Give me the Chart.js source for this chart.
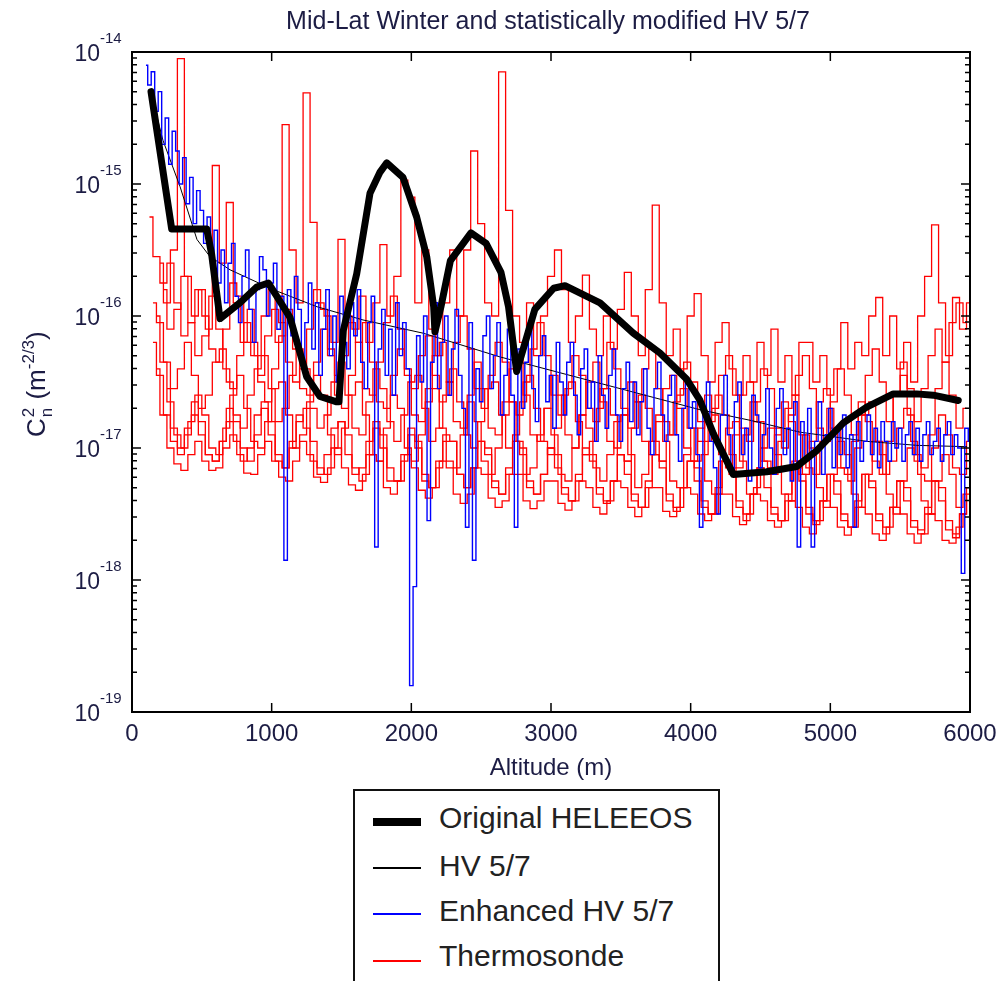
<!DOCTYPE html>
<html>
<head>
<meta charset="utf-8">
<title>Mid-Lat Winter and statistically modified HV 5/7</title>
<script src="https://cdn.jsdelivr.net/npm/chart.js@4.4.1/dist/chart.umd.min.js"></script>
<style>
  html, body { margin: 0; padding: 0; background: #fff; overflow: hidden; }
  #wrap { position: relative; width: 1000px; height: 981px; }
  #chart { position: absolute; left: 0; top: 0; }
  #legend {
    position: absolute; left: 353px; top: 789px; width: 363px; height: 200px;
    border: 2px solid #111; background: #fff;
    font-family: "Liberation Sans", Arial, sans-serif; font-size: 30px; color: #222;
  }
  .swatch { position: absolute; left: 18px; width: 48px; }
  .label { position: absolute; left: 84px; line-height: 30px; white-space: nowrap; }
</style>
</head>
<body>
<div id="wrap">
  <canvas id="chart" width="1000" height="981"></canvas>
  <div id="legend">
    <div class="swatch" style="top:27px;height:8px;background:#000"></div>
    <div class="label" style="top:12px">Original HELEEOS</div>
    <div class="swatch" style="top:76px;height:2px;background:#000"></div>
    <div class="label" style="top:60px">HV 5/7</div>
    <div class="swatch" style="top:122px;height:2px;background:#0000ff"></div>
    <div class="label" style="top:105px">Enhanced HV 5/7</div>
    <div class="swatch" style="top:169px;height:2px;background:#ff0000"></div>
    <div class="label" style="top:150px">Thermosonde</div>
  </div>
</div>
<script>
// Altitude grids (m) for the noisy profiles
const altitudeGrid = [100,150,200,250,300,350,400,450,500,550,
  600,650,700,750,800,850,900,950,1000,1050,
  1100,1150,1200,1250,1300,1350,1400,1450,1500,1550,
  1600,1650,1700,1750,1800,1850,1900,1950,2000,2050,
  2100,2150,2200,2250,2300,2350,2400,2450,2500,2550,
  2600,2650,2700,2750,2800,2850,2900,2950,3000,3050,
  3100,3150,3200,3250,3300,3350,3400,3450,3500,3550,
  3600,3650,3700,3750,3800,3850,3900,3950,4000,4050,
  4100,4150,4200,4250,4300,4350,4400,4450,4500,4550,
  4600,4650,4700,4750,4800,4850,4900,4950,5000,5050,
  5100,5150,5200,5250,5300,5350,5400,5450,5500,5550,
  5600,5650,5700,5750,5800,5850,5900,5950,6000];
const altitudeGridB = [75,125,175,225,275,325,375,425,475,525,
  575,625,675,725,775,825,875,925,975,1025,
  1075,1125,1175,1225,1275,1325,1375,1425,1475,1525,
  1575,1625,1675,1725,1775,1825,1875,1925,1975,2025,
  2075,2125,2175,2225,2275,2325,2375,2425,2475,2525,
  2575,2625,2675,2725,2775,2825,2875,2925,2975,3025,
  3075,3125,3175,3225,3275,3325,3375,3425,3475,3525,
  3575,3625,3675,3725,3775,3825,3875,3925,3975,4025,
  4075,4125,4175,4225,4275,4325,4375,4425,4475,4525,
  4575,4625,4675,4725,4775,4825,4875,4925,4975,5025,
  5075,5125,5175,5225,5275,5325,5375,5425,5475,5525,
  5575,5625,5675,5725,5775,5825,5875,5925,5975];
const fineGrid = [100,125,150,175,200,225,250,275,300,325,350,375,400,425,450,475,500,525,550,575,
  600,625,650,675,700,725,750,775,800,825,850,875,900,925,950,975,1000,1025,1050,1075,
  1100,1125,1150,1175,1200,1225,1250,1275,1300,1325,1350,1375,1400,1425,1450,1475,1500,1525,1550,1575,
  1600,1625,1650,1675,1700,1725,1750,1775,1800,1825,1850,1875,1900,1925,1950,1975,2000,2025,2050,2075,
  2100,2125,2150,2175,2200,2225,2250,2275,2300,2325,2350,2375,2400,2425,2450,2475,2500,2525,2550,2575,
  2600,2625,2650,2675,2700,2725,2750,2775,2800,2825,2850,2875,2900,2925,2950,2975,3000,3025,3050,3075,
  3100,3125,3150,3175,3200,3225,3250,3275,3300,3325,3350,3375,3400,3425,3450,3475,3500,3525,3550,3575,
  3600,3625,3650,3675,3700,3725,3750,3775,3800,3825,3850,3875,3900,3925,3950,3975,4000,4025,4050,4075,
  4100,4125,4150,4175,4200,4225,4250,4275,4300,4325,4350,4375,4400,4425,4450,4475,4500,4525,4550,4575,
  4600,4625,4650,4675,4700,4725,4750,4775,4800,4825,4850,4875,4900,4925,4950,4975,5000,5025,5050,5075,
  5100,5125,5150,5175,5200,5225,5250,5275,5300,5325,5350,5375,5400,5425,5450,5475,5500,5525,5550,5575,
  5600,5625,5650,5675,5700,5725,5750,5775,5800,5825,5850,5875,5900,5925,5950,5975,6000];

const xTickValues = [0,1000,2000,3000,4000,5000,6000];
const yTickExponents = [-19,-18,-17,-16,-15,-14];

// Values are log10 of Cn2 (m^-2/3)

// Original HELEEOS (thick black)
const heleeosAlt = [136,284,535,570,630,773,893,976,1036,1131,
  1251,1346,1466,1482,1513,1609,1704,1776,1824,1940,
  2038,2110,2160,2169,2212,2280,2427,2535,2642,2696,
  2754,2884,3019,3100,3351,3589,3780,3972,4067,4162,
  4305,4544,4759,4902,5093,5260,5451,5618,5737,5916];
const heleeosLog = [-14.30,-15.34,-15.34,-15.53,-16.02,-15.90,-15.78,-15.75,-15.85,-16.01,
  -16.46,-16.61,-16.65,-16.65,-16.11,-15.68,-15.07,-14.91,-14.84,-14.95,
  -15.25,-15.55,-15.93,-16.12,-15.93,-15.58,-15.37,-15.45,-15.67,-15.93,
  -16.42,-15.95,-15.79,-15.77,-15.90,-16.13,-16.28,-16.48,-16.64,-16.89,
  -17.20,-17.18,-17.14,-17.02,-16.81,-16.69,-16.59,-16.59,-16.60,-16.64];

// HV 5/7 (thin black)
const hvAlt = [130,222,344,465,558,702,1010,1325,1654,2084,
  2635,2993,3351,3709,4067,4425,4783,5263,5621,5979];
const hvLog = [-14.29,-14.67,-15.02,-15.42,-15.55,-15.65,-15.80,-15.93,-16.03,-16.13,
  -16.31,-16.41,-16.51,-16.61,-16.71,-16.79,-16.88,-16.95,-16.98,-16.99];

// Enhanced HV 5/7 (blue), on fineGrid
const enhancedLog = [
  -14.10,-14.25,-14.15,-14.45,-14.30,-14.70,-14.50,-14.85,-14.60,-14.75,-15.00,-14.80,-15.15,-14.95,-15.30,-15.05,-15.20,-15.45,-15.25,-15.60,
  -15.35,-15.75,-15.50,-15.90,-15.60,-15.45,-15.85,-16.05,-15.70,-15.50,-15.95,-16.20,-15.80,-15.55,-15.65,-16.00,-15.75,-15.60,-16.10,-15.85,
  -17.85,-15.80,-16.15,-15.70,-15.95,-16.35,-16.05,-15.75,-16.25,-15.90,-16.45,-16.10,-15.80,-16.30,-16.00,-16.50,-15.85,-16.20,-16.40,-15.90,
  -16.15,-15.80,-16.35,-16.55,-16.05,-15.85,-17.75,-16.25,-15.95,-16.45,-16.10,-16.60,-15.90,-16.30,-16.05,-16.40,-18.80,-18.05,-16.15,-16.50,
  -16.00,-17.55,-16.35,-15.90,-16.55,-16.20,-16.00,-16.60,-16.25,-15.95,-16.45,-16.70,-17.60,-16.05,-17.85,-16.40,-16.65,-16.15,-16.00,-16.55,
  -16.30,-16.05,-16.75,-16.45,-16.10,-16.60,-17.60,-16.25,-16.70,-16.35,-16.05,-16.55,-16.80,-16.30,-16.15,-16.65,-16.45,-16.85,-16.20,-16.50,
  -16.75,-16.35,-16.20,-16.60,-16.90,-16.40,-16.25,-16.70,-16.50,-16.95,-16.30,-16.60,-16.85,-16.45,-16.25,-16.75,-16.95,-16.55,-16.35,-16.80,
  -16.50,-16.90,-16.65,-16.40,-16.85,-17.05,-16.55,-16.35,-16.75,-16.95,-16.60,-16.45,-16.90,-17.10,-16.70,-16.50,-16.85,-16.65,-17.05,-17.60,
  -16.70,-16.50,-16.95,-17.15,-17.50,-16.75,-16.45,-16.90,-17.20,-16.65,-16.50,-17.05,-16.85,-17.25,-16.60,-16.75,-17.15,-16.90,-16.55,-17.00,
  -17.20,-16.70,-16.55,-17.05,-16.85,-17.25,-16.65,-17.75,-16.80,-17.10,-16.70,-17.75,-16.95,-16.65,-17.20,-16.90,-16.70,-17.15,-16.85,-17.05,
  -16.75,-17.15,-16.90,-17.60,-16.80,-17.10,-16.95,-16.75,-17.05,-16.85,-17.15,-16.80,-16.95,-17.10,-16.80,-17.00,-16.85,-17.10,-16.90,-16.80,
  -17.05,-16.85,-17.10,-16.90,-16.80,-17.05,-16.95,-16.85,-17.10,-16.90,-16.80,-17.05,-16.90,-17.00,-17.95,-16.85,-16.95];

// Thermosonde profiles (red); odd ones on altitudeGrid, even ones on altitudeGridB
const thermo1Log = [null,null,-15.60,-15.90,-15.50,-14.05,-15.70,-16.00,-15.80,-16.10,
  -14.86,-15.60,-15.14,-15.90,-16.20,-15.95,-16.30,-16.00,-15.80,-16.20,
  -14.55,-15.50,-15.90,-14.31,-15.29,-15.90,-16.00,-16.20,-15.42,-16.00,
  -16.10,-15.85,-16.20,-15.90,-15.46,-16.00,-15.70,-14.97,-15.10,-15.90,
  -15.50,-16.10,-16.30,-15.90,-15.50,-16.00,-15.50,-14.75,-15.30,-15.90,
  -16.00,-14.15,-15.20,-16.00,-16.20,-15.90,-16.30,-16.00,-15.70,-15.50,
  -15.80,-16.20,-16.00,-15.69,-16.10,-16.30,-16.00,-16.25,-15.95,-15.67,
  -16.00,-16.30,-15.80,-15.16,-15.90,-16.30,-16.10,-16.40,-16.00,-15.83,
  -16.30,-16.50,-16.20,-16.05,-16.40,-16.60,-16.30,-16.50,-16.20,-16.45,
  -16.10,-16.50,-16.30,-16.60,-16.20,-16.20,-16.50,-16.30,-16.60,-16.40,
  -16.05,-16.40,-16.20,-16.30,-16.00,-15.86,-16.30,-16.00,-16.40,-16.20,
  -16.50,-16.00,-15.70,-15.31,-15.90,-16.30,-15.86,-16.10,-15.90];
const thermo2Log = [null,-15.25,-15.55,-15.75,-15.60,-15.90,-16.15,-16.05,-15.80,-16.00,
  -16.25,-16.35,-16.10,-15.75,-15.85,-16.20,-16.30,-16.45,-16.15,-15.95,
  -16.05,-16.35,-16.50,-16.40,-16.10,-15.80,-15.95,-16.25,-16.45,-16.30,
  -16.05,-16.20,-16.55,-16.60,-16.35,-16.05,-15.85,-16.10,-16.40,-16.55,
  -16.30,-16.15,-16.45,-16.65,-16.50,-16.20,-16.00,-16.25,-16.55,-16.70,
  -16.45,-16.20,-16.35,-16.65,-16.75,-16.50,-16.25,-16.05,-16.30,-16.60,
  -16.75,-16.55,-16.30,-16.45,-16.70,-16.80,-16.55,-16.20,-16.40,-16.70,
  -16.85,-16.65,-16.40,-16.25,-16.55,-16.80,-16.90,-16.60,-16.35,-16.50,
  -16.80,-16.95,-16.70,-16.45,-16.30,-16.60,-16.85,-16.95,-16.65,-16.40,
  -16.55,-16.85,-17.00,-16.75,-16.45,-16.30,-16.55,-16.85,-16.95,-16.65,
  -16.40,-16.60,-16.90,-16.75,-16.45,-16.25,-16.50,-16.80,-16.60,-16.35,
  -16.55,-16.80,-16.55,-16.30,-16.10,-16.35,-16.05,-15.90,-16.05];
const thermo3Log = [null,-15.90,-16.05,-16.35,-16.55,-16.40,-16.20,-16.45,-16.70,-16.60,
  -16.35,-16.25,-16.50,-16.80,-16.85,-16.60,-16.40,-16.30,-16.55,-16.80,
  -16.70,-16.45,-16.25,-16.40,-16.70,-16.85,-16.75,-16.50,-16.35,-16.60,
  -16.85,-16.90,-16.65,-16.40,-16.55,-16.80,-16.95,-16.75,-16.50,-16.45,
  -16.70,-16.95,-16.85,-16.60,-16.40,-16.65,-16.90,-17.00,-16.80,-16.55,
  -16.50,-16.75,-17.00,-16.90,-16.65,-16.45,-16.70,-16.95,-17.05,-16.85,
  -16.60,-16.50,-16.80,-17.05,-16.95,-16.70,-16.55,-16.75,-17.05,-17.10,
  -16.85,-16.60,-16.70,-16.95,-17.10,-16.90,-16.65,-16.55,-16.85,-17.10,
  -17.05,-16.80,-16.60,-16.75,-17.05,-17.15,-16.90,-16.65,-16.80,-17.10,
  -17.20,-16.95,-16.70,-16.60,-16.90,-17.15,-17.20,-16.95,-16.70,-16.85,
  -17.15,-17.25,-17.00,-16.75,-16.65,-16.95,-17.20,-17.10,-16.85,-16.70,
  -16.95,-17.20,-17.25,-17.00,-16.75,-16.90,-17.15,-17.20,-16.95];
const thermo4Log = [null,null,-16.00,-16.35,-16.65,-16.90,-17.00,-16.80,-16.60,-16.75,
  -17.00,-17.05,-16.85,-16.60,-16.45,-16.70,-16.95,-17.00,-16.80,-16.55,
  -16.50,-16.75,-17.00,-16.90,-16.65,-16.45,-16.60,-16.90,-17.05,-16.85,
  -16.60,-16.50,-16.75,-17.05,-17.10,-16.85,-16.60,-16.70,-17.00,-17.10,
  -16.90,-16.65,-16.55,-16.85,-17.10,-17.15,-16.90,-16.65,-16.80,-17.10,
  -17.20,-17.00,-16.75,-16.65,-16.95,-17.20,-17.15,-16.90,-16.70,-16.90,
  -17.20,-17.25,-17.00,-16.75,-16.85,-17.15,-17.25,-17.05,-16.80,-16.75,
  -17.05,-17.30,-17.20,-16.95,-16.75,-16.95,-17.25,-17.30,-17.05,-16.85,
  -16.95,-17.25,-17.35,-17.10,-16.85,-16.80,-17.10,-17.35,-17.30,-17.00,
  -16.85,-17.05,-17.35,-17.40,-17.15,-16.90,-17.00,-17.30,-17.45,-17.20,
  -16.95,-17.05,-17.35,-17.45,-17.20,-16.95,-17.05,-17.35,-17.50,-17.25,
  -17.00,-17.10,-17.40,-17.50,-17.25,-17.05,-17.20,-17.45,-17.35];
const thermo5Log = [null,-16.20,-16.45,-16.75,-16.95,-17.05,-16.90,-16.75,-16.90,-17.05,
  -17.10,-16.95,-16.80,-16.95,-17.10,-17.00,-16.75,-16.65,-16.90,-17.10,
  -17.15,-16.95,-16.75,-16.85,-17.10,-17.20,-17.05,-16.85,-16.80,-17.05,
  -17.20,-17.15,-16.95,-16.80,-17.00,-17.25,-17.25,-17.05,-16.85,-17.00,
  -17.25,-17.30,-17.10,-16.90,-16.95,-17.20,-17.30,-17.15,-16.95,-17.05,
  -17.30,-17.35,-17.15,-16.95,-17.05,-17.30,-17.35,-17.20,-17.00,-17.15,
  -17.35,-17.40,-17.20,-17.00,-17.10,-17.35,-17.42,-17.25,-17.05,-17.20,
  -17.40,-17.45,-17.25,-17.05,-17.15,-17.40,-17.48,-17.30,-17.10,-17.25,
  -17.45,-17.50,-17.30,-17.10,-17.20,-17.45,-17.55,-17.35,-17.15,-17.30,
  -17.50,-17.55,-17.35,-17.10,-17.25,-17.50,-17.58,-17.40,-17.20,-17.35,
  -17.55,-17.60,-17.40,-17.20,-17.30,-17.55,-17.65,-17.45,-17.25,-17.40,
  -17.60,-17.65,-17.45,-17.25,-17.40,-17.62,-17.68,-17.50,-17.35];
const thermo6Log = [null,null,-16.40,-16.75,-17.00,-17.12,-17.17,-17.05,-16.95,-17.10,
  -17.17,-17.15,-17.00,-16.90,-17.05,-17.19,-17.20,-17.05,-16.95,-17.10,
  -17.22,-17.25,-17.10,-16.95,-17.05,-17.22,-17.26,-17.15,-17.00,-17.15,
  -17.28,-17.32,-17.20,-17.05,-17.10,-17.30,-17.35,-17.25,-17.05,-17.15,
  -17.32,-17.38,-17.30,-17.10,-17.15,-17.35,-17.42,-17.35,-17.15,-17.20,
  -17.38,-17.45,-17.40,-17.20,-17.20,-17.40,-17.46,-17.40,-17.25,-17.25,
  -17.42,-17.47,-17.40,-17.25,-17.30,-17.45,-17.50,-17.40,-17.25,-17.30,
  -17.45,-17.52,-17.45,-17.30,-17.30,-17.48,-17.52,-17.45,-17.30,-17.35,
  -17.50,-17.55,-17.50,-17.35,-17.35,-17.52,-17.58,-17.50,-17.35,-17.40,
  -17.55,-17.60,-17.55,-17.40,-17.45,-17.60,-17.65,-17.55,-17.40,-17.45,
  -17.60,-17.66,-17.60,-17.45,-17.50,-17.65,-17.70,-17.60,-17.45,-17.50,
  -17.65,-17.72,-17.65,-17.50,-17.55,-17.70,-17.72,-17.60,-17.50];
const thermo7Log = [null,null,null,-15.80,-16.10,-15.95,-15.70,-16.05,-16.30,-16.15,
  -15.85,-16.10,-16.40,-16.55,-16.30,-16.05,-16.20,-16.50,-16.65,-16.40,
  -16.15,-15.95,-16.25,-16.55,-16.60,-16.35,-16.10,-16.30,-16.60,-16.70,
  -16.45,-16.20,-16.05,-16.35,-16.65,-16.70,-16.45,-16.25,-16.45,-16.75,
  -16.80,-16.55,-16.30,-16.20,-16.50,-16.80,-16.85,-16.60,-16.35,-16.55,
  -16.85,-16.90,-16.65,-16.40,-16.30,-16.60,-16.90,-16.95,-16.70,-16.45,
  -16.60,-16.90,-17.00,-16.75,-16.50,-16.35,-16.65,-16.95,-17.00,-16.75,
  -16.50,-16.65,-16.95,-17.05,-16.80,-16.55,-16.45,-16.70,-17.00,-17.10,
  -16.85,-16.60,-16.75,-17.05,-17.15,-16.90,-16.60,-16.50,-16.80,-17.10,
  -17.15,-16.90,-16.65,-16.80,-17.10,-17.20,-16.95,-16.65,-16.55,-16.85,
  -17.15,-17.20,-16.95,-16.65,-16.80,-17.10,-17.20,-16.95,-16.60,-16.45,
  -16.75,-17.05,-17.15,-16.90,-16.55,-16.35,-16.60,-16.85,-16.70];
const thermo8Log = [null,null,null,-16.55,-16.85,-17.00,-16.85,-16.65,-16.80,-17.05,
  -17.10,-16.95,-16.70,-16.75,-17.00,-17.10,-16.90,-16.70,-16.80,-17.05,
  -17.15,-17.00,-16.80,-16.70,-16.95,-17.15,-17.20,-17.00,-16.80,-16.90,
  -17.15,-17.25,-17.05,-16.85,-16.90,-17.15,-17.25,-17.10,-16.90,-16.95,
  -17.20,-17.30,-17.15,-16.95,-16.95,-17.20,-17.30,-17.15,-16.95,-17.00,
  -17.25,-17.35,-17.20,-16.95,-17.00,-17.25,-17.35,-17.20,-17.00,-17.05,
  -17.30,-17.40,-17.25,-17.05,-17.05,-17.30,-17.40,-17.25,-17.05,-17.10,
  -17.35,-17.45,-17.30,-17.05,-17.10,-17.35,-17.45,-17.30,-17.10,-17.15,
  -17.40,-17.50,-17.35,-17.10,-17.15,-17.40,-17.50,-17.35,-17.15,-17.20,
  -17.45,-17.55,-17.40,-17.15,-17.20,-17.45,-17.55,-17.40,-17.20,-17.25,
  -17.50,-17.60,-17.45,-17.20,-17.25,-17.50,-17.60,-17.45,-17.25,-17.30,
  -17.55,-17.62,-17.50,-17.25,-17.30,-17.55,-17.65,-17.50,-17.30];

function toPoints(xs, logs) {
  return xs.map(function (x, i) {
    return { x: x, y: logs[i] === null ? null : Math.pow(10, logs[i]) };
  });
}

const labelColor = '#1c1c44';
const fontFamily = '"Liberation Sans", Arial, sans-serif';

// Frame, inward ticks, superscript tick labels and titles
const axesDecor = {
  id: 'axesDecor',
  afterDraw(chart) {
    const ctx = chart.ctx;
    const a = chart.chartArea;
    const xs = chart.scales.x;
    const ys = chart.scales.y;
    ctx.save();

    ctx.strokeStyle = '#000';
    ctx.lineWidth = 2;
    ctx.strokeRect(a.left, a.top, a.right - a.left, a.bottom - a.top);

    ctx.lineWidth = 1.5;
    ctx.beginPath();
    xTickValues.forEach(function (v) {
      const px = xs.getPixelForValue(v);
      ctx.moveTo(px, a.bottom); ctx.lineTo(px, a.bottom - 9);
      ctx.moveTo(px, a.top); ctx.lineTo(px, a.top + 9);
    });
    yTickExponents.forEach(function (e) {
      const py = ys.getPixelForValue(Math.pow(10, e));
      ctx.moveTo(a.left, py); ctx.lineTo(a.left + 9, py);
      ctx.moveTo(a.right, py); ctx.lineTo(a.right - 9, py);
      if (e < -14) {
        for (let m = 2; m <= 9; m++) {
          const pm = ys.getPixelForValue(m * Math.pow(10, e));
          ctx.moveTo(a.left, pm); ctx.lineTo(a.left + 5, pm);
          ctx.moveTo(a.right, pm); ctx.lineTo(a.right - 5, pm);
        }
      }
    });
    ctx.stroke();

    ctx.fillStyle = labelColor;
    ctx.textBaseline = 'alphabetic';

    // x tick labels
    ctx.font = '24px ' + fontFamily;
    ctx.textAlign = 'center';
    xTickValues.forEach(function (v) {
      ctx.fillText(String(v), xs.getPixelForValue(v), a.bottom + 29);
    });

    // y tick labels 10^e
    yTickExponents.forEach(function (e) {
      const py = ys.getPixelForValue(Math.pow(10, e));
      ctx.font = '23px ' + fontFamily;
      ctx.textAlign = 'right';
      ctx.fillText('10', a.left - 32, py + 9);
      ctx.font = '15px ' + fontFamily;
      ctx.textAlign = 'left';
      ctx.fillText(String(e), a.left - 32, py - 9);
    });

    // chart title
    ctx.font = '25px ' + fontFamily;
    ctx.textAlign = 'center';
    ctx.fillText('Mid-Lat Winter and statistically modified HV 5/7', 548, 29);

    // x axis title
    ctx.font = '24px ' + fontFamily;
    ctx.fillText('Altitude (m)', (a.left + a.right) / 2, a.bottom + 63);

    // y axis title: C n^2 (m^-2/3), rotated
    ctx.translate(45, 437);
    ctx.rotate(-Math.PI / 2);
    ctx.textAlign = 'left';
    let u = 0;
    ctx.font = '26px ' + fontFamily;
    ctx.fillText('C', u, 0);
    u += ctx.measureText('C').width + 1;
    ctx.font = '17px ' + fontFamily;
    ctx.fillText('2', u, -11);
    ctx.fillText('n', u, 7);
    u += Math.max(ctx.measureText('2').width, ctx.measureText('n').width) + 1;
    ctx.font = '26px ' + fontFamily;
    ctx.fillText(' (m', u, 0);
    u += ctx.measureText(' (m').width;
    ctx.font = '17px ' + fontFamily;
    ctx.fillText('-2/3', u, -11);
    u += ctx.measureText('-2/3').width;
    ctx.font = '26px ' + fontFamily;
    ctx.fillText(')', u, 0);

    ctx.restore();
  }
};

const thermoProfiles = [
  [altitudeGrid, thermo1Log], [altitudeGridB, thermo2Log], [altitudeGrid, thermo3Log],
  [altitudeGridB, thermo4Log], [altitudeGrid, thermo5Log], [altitudeGridB, thermo6Log],
  [altitudeGridB, thermo7Log], [altitudeGrid, thermo8Log]
];
const thermoSets = thermoProfiles.map(function (p) {
  return { label: 'Thermosonde', data: toPoints(p[0], p[1]), borderColor: '#ff0000', borderWidth: 1.3, stepped: 'middle' };
});

new Chart(document.getElementById('chart'), {
  type: 'line',
  data: {
    datasets: [
      { label: 'Original HELEEOS', data: toPoints(heleeosAlt, heleeosLog), borderColor: '#000', borderWidth: 7, borderJoinStyle: 'round', borderCapStyle: 'round' },
      { label: 'Enhanced HV 5/7', data: toPoints(fineGrid, enhancedLog), borderColor: '#0000ff', borderWidth: 1.4, stepped: 'middle' },
      { label: 'HV 5/7', data: toPoints(hvAlt, hvLog), borderColor: '#000', borderWidth: 1 }
    ].concat(thermoSets)
  },
  options: {
    responsive: false,
    animation: false,
    devicePixelRatio: 1,
    layout: { padding: { left: 132, right: 30, top: 52, bottom: 269 } },
    elements: { point: { radius: 0 }, line: { tension: 0, fill: false } },
    scales: {
      x: { type: 'linear', min: 0, max: 6000, display: false },
      y: { type: 'logarithmic', min: 1e-19, max: 1e-14, display: false }
    },
    plugins: { legend: { display: false }, tooltip: { enabled: false }, title: { display: false } }
  },
  plugins: [axesDecor]
});
</script>
</body>
</html>
